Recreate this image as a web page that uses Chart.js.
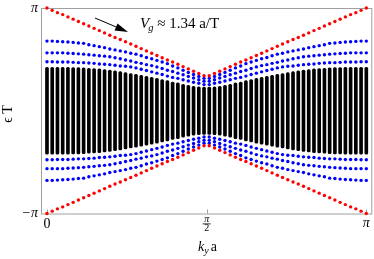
<!DOCTYPE html>
<html>
<head>
<meta charset="utf-8">
<script src="https://cdn.jsdelivr.net/npm/chart.js@4.4.1/dist/chart.umd.min.js"></script>
<style>
  html, body { margin: 0; padding: 0; background: #fff; }
</style>
</head>
<body>
<canvas id="bandas" width="374" height="259"></canvas>
<script>
  // k_y a sampled on 62 points from 0 to pi
  const kValues = Array.from({ length: 62 }, (_, i) => i * Math.PI / 61);

  // red edge states
  const redUpper = [3.14, 3.07, 3.00, 2.94, 2.87, 2.80, 2.73, 2.66, 2.59, 2.52, 2.45, 2.38, 2.31, 2.24, 2.18, 2.11, 2.04, 1.97, 1.90, 1.83, 1.76, 1.69, 1.62, 1.55, 1.49, 1.42, 1.35, 1.28, 1.21, 1.14, 1.07,
    1.07, 1.14, 1.21, 1.28, 1.35, 1.42, 1.49, 1.55, 1.62, 1.69, 1.76, 1.83, 1.90, 1.97, 2.04, 2.11, 2.18, 2.24, 2.31, 2.38, 2.45, 2.52, 2.59, 2.66, 2.73, 2.80, 2.87, 2.94, 3.00, 3.07, 3.14];
  const redLower = [-3.14, -3.07, -3.00, -2.94, -2.87, -2.80, -2.73, -2.66, -2.59, -2.52, -2.45, -2.38, -2.31, -2.24, -2.18, -2.11, -2.04, -1.97, -1.90, -1.83, -1.76, -1.69, -1.62, -1.55, -1.49, -1.42, -1.35, -1.28, -1.21, -1.14, -1.07,
    -1.07, -1.14, -1.21, -1.28, -1.35, -1.42, -1.49, -1.55, -1.62, -1.69, -1.76, -1.83, -1.90, -1.97, -2.04, -2.11, -2.18, -2.24, -2.31, -2.38, -2.45, -2.52, -2.59, -2.66, -2.73, -2.80, -2.87, -2.94, -3.00, -3.07, -3.14];

  // blue bands
  const blue1Upper = [2.13, 2.13, 2.12, 2.11, 2.10, 2.09, 2.07, 2.06, 2.02, 1.99, 1.96, 1.93, 1.89, 1.86, 1.83, 1.80, 1.76, 1.73, 1.68, 1.63, 1.59, 1.54, 1.49, 1.44, 1.37, 1.31, 1.24, 1.17, 1.11, 1.05, 0.99,
    0.99, 1.05, 1.11, 1.17, 1.24, 1.31, 1.37, 1.44, 1.49, 1.54, 1.59, 1.63, 1.68, 1.73, 1.76, 1.80, 1.83, 1.86, 1.89, 1.93, 1.96, 1.99, 2.02, 2.06, 2.07, 2.09, 2.10, 2.11, 2.12, 2.13, 2.13];
  const blue2Upper = [1.77, 1.77, 1.77, 1.77, 1.76, 1.75, 1.74, 1.73, 1.71, 1.70, 1.68, 1.67, 1.65, 1.62, 1.59, 1.55, 1.52, 1.48, 1.45, 1.41, 1.38, 1.34, 1.29, 1.24, 1.20, 1.15, 1.10, 1.05, 1.00, 0.95, 0.90,
    0.90, 0.95, 1.00, 1.05, 1.10, 1.15, 1.20, 1.24, 1.29, 1.34, 1.38, 1.41, 1.45, 1.48, 1.52, 1.55, 1.59, 1.62, 1.65, 1.67, 1.68, 1.70, 1.71, 1.73, 1.74, 1.75, 1.76, 1.77, 1.77, 1.77, 1.77];
  const blue3Upper = [1.50, 1.50, 1.49, 1.49, 1.49, 1.48, 1.47, 1.47, 1.46, 1.45, 1.43, 1.42, 1.41, 1.39, 1.37, 1.36, 1.34, 1.31, 1.27, 1.23, 1.19, 1.15, 1.11, 1.06, 1.02, 0.99, 0.95, 0.91, 0.87, 0.84, 0.80,
    0.80, 0.84, 0.87, 0.91, 0.95, 0.99, 1.02, 1.06, 1.11, 1.15, 1.19, 1.23, 1.27, 1.31, 1.34, 1.36, 1.37, 1.39, 1.41, 1.42, 1.43, 1.45, 1.46, 1.47, 1.47, 1.48, 1.49, 1.49, 1.49, 1.50, 1.50];
  const blue1Lower = [-2.13, -2.13, -2.12, -2.11, -2.10, -2.09, -2.07, -2.06, -2.02, -1.99, -1.96, -1.93, -1.89, -1.86, -1.83, -1.80, -1.76, -1.73, -1.68, -1.63, -1.59, -1.54, -1.49, -1.44, -1.37, -1.31, -1.24, -1.17, -1.11, -1.05, -0.99,
    -0.99, -1.05, -1.11, -1.17, -1.24, -1.31, -1.37, -1.44, -1.49, -1.54, -1.59, -1.63, -1.68, -1.73, -1.76, -1.80, -1.83, -1.86, -1.89, -1.93, -1.96, -1.99, -2.02, -2.06, -2.07, -2.09, -2.10, -2.11, -2.12, -2.13, -2.13];
  const blue2Lower = [-1.77, -1.77, -1.77, -1.77, -1.76, -1.75, -1.74, -1.73, -1.71, -1.70, -1.68, -1.67, -1.65, -1.62, -1.59, -1.55, -1.52, -1.48, -1.45, -1.41, -1.38, -1.34, -1.29, -1.24, -1.20, -1.15, -1.10, -1.05, -1.00, -0.95, -0.90,
    -0.90, -0.95, -1.00, -1.05, -1.10, -1.15, -1.20, -1.24, -1.29, -1.34, -1.38, -1.41, -1.45, -1.48, -1.52, -1.55, -1.59, -1.62, -1.65, -1.67, -1.68, -1.70, -1.71, -1.73, -1.74, -1.75, -1.76, -1.77, -1.77, -1.77, -1.77];
  const blue3Lower = [-1.50, -1.50, -1.49, -1.49, -1.49, -1.48, -1.47, -1.47, -1.46, -1.45, -1.43, -1.42, -1.41, -1.39, -1.37, -1.36, -1.34, -1.31, -1.27, -1.23, -1.19, -1.15, -1.11, -1.06, -1.02, -0.99, -0.95, -0.91, -0.87, -0.84, -0.80,
    -0.80, -0.84, -0.87, -0.91, -0.95, -0.99, -1.02, -1.06, -1.11, -1.15, -1.19, -1.23, -1.27, -1.31, -1.34, -1.36, -1.37, -1.39, -1.41, -1.42, -1.43, -1.45, -1.46, -1.47, -1.47, -1.48, -1.49, -1.49, -1.49, -1.50, -1.50];

  // edges of the dense black bulk bands
  const blackTop = [1.33, 1.33, 1.33, 1.33, 1.33, 1.32, 1.32, 1.31, 1.30, 1.29, 1.28, 1.26, 1.24, 1.22, 1.20, 1.17, 1.14, 1.11, 1.08, 1.05, 1.02, 0.99, 0.95, 0.92, 0.88, 0.85, 0.81, 0.78, 0.75, 0.73, 0.72,
    0.72, 0.73, 0.75, 0.78, 0.81, 0.85, 0.88, 0.92, 0.95, 0.99, 1.02, 1.05, 1.08, 1.11, 1.14, 1.17, 1.20, 1.22, 1.24, 1.26, 1.28, 1.29, 1.30, 1.31, 1.32, 1.32, 1.33, 1.33, 1.33, 1.33, 1.33];
  const blackBottom = [-1.33, -1.33, -1.33, -1.33, -1.33, -1.32, -1.32, -1.31, -1.30, -1.29, -1.28, -1.26, -1.24, -1.22, -1.20, -1.17, -1.14, -1.11, -1.08, -1.05, -1.02, -0.99, -0.95, -0.92, -0.88, -0.85, -0.81, -0.78, -0.75, -0.73, -0.72,
    -0.72, -0.73, -0.75, -0.78, -0.81, -0.85, -0.88, -0.92, -0.95, -0.99, -1.02, -1.05, -1.08, -1.11, -1.14, -1.17, -1.20, -1.22, -1.24, -1.26, -1.28, -1.29, -1.30, -1.31, -1.32, -1.32, -1.33, -1.33, -1.33, -1.33, -1.33];

  const xTickValues = [0, Math.PI / 2, Math.PI];
  const yTickValues = [Math.PI, -Math.PI];
  const yTickLabels = ['π', '−π'];

  const pts = arr => arr.map((v, i) => ({ x: kValues[i], y: v }));
  const serif = '"Liberation Serif", "DejaVu Serif", serif';

  const dots = (data, color, order) => ({
    type: 'scatter',
    data: pts(data),
    backgroundColor: color,
    borderWidth: 0,
    pointRadius: 1.7,
    pointHoverRadius: 1.7,
    order: order,
    clip: false
  });

  const decorations = {
    id: 'decorations',
    beforeDatasetsDraw(chart) {
      const { ctx, chartArea: a } = chart;
      ctx.save();
      ctx.strokeStyle = '#a0a0a0';
      ctx.lineWidth = 1;
      ctx.strokeRect(a.left + 0.5, a.top + 0.5, a.right - a.left - 1, a.bottom - a.top);
      // inward ticks on the bottom frame
      const xs = chart.scales.x;
      xTickValues.forEach(v => {
        const px = Math.round(xs.getPixelForValue(v)) + 0.5;
        ctx.beginPath();
        ctx.moveTo(px, a.bottom);
        ctx.lineTo(px, a.bottom - 4);
        ctx.stroke();
      });
      ctx.restore();
    },
    afterDraw(chart) {
      const { ctx, chartArea: a } = chart;
      const xs = chart.scales.x, ys = chart.scales.y;
      ctx.save();
      ctx.fillStyle = '#000';

      // y tick labels
      ctx.textAlign = 'right';
      ctx.textBaseline = 'middle';
      ctx.font = 'italic 14px ' + serif;
      yTickValues.forEach((v, i) => ctx.fillText(yTickLabels[i], a.left - 3, ys.getPixelForValue(v)));

      // x tick labels
      ctx.textAlign = 'center';
      ctx.textBaseline = 'alphabetic';
      ctx.font = '14px ' + serif;
      ctx.fillText('0', xs.getPixelForValue(0), 228);
      ctx.font = 'italic 14px ' + serif;
      ctx.fillText('π', xs.getPixelForValue(Math.PI), 227);
      const half = xs.getPixelForValue(Math.PI / 2);
      ctx.font = 'italic 10px ' + serif;
      ctx.fillText('π', half, 222);
      ctx.font = '10px ' + serif;
      ctx.fillText('2', half, 231);
      ctx.fillRect(half - 4, 223.5, 8, 0.8);

      // x axis title: k_y a
      ctx.textAlign = 'left';
      ctx.font = 'italic 14px ' + serif;
      let x0 = 198;
      ctx.fillText('k', x0, 251);
      x0 += ctx.measureText('k').width;
      ctx.font = 'italic 10px ' + serif;
      ctx.fillText('y', x0, 254);
      x0 += ctx.measureText('y').width + 2;
      ctx.font = '14px ' + serif;
      ctx.fillText('a', x0, 251);

      // y axis title: epsilon T
      ctx.save();
      ctx.translate(12, 114);
      ctx.rotate(-Math.PI / 2);
      ctx.textAlign = 'center';
      ctx.font = '14px ' + serif;
      ctx.fillText('ϵ T', 0, 0);
      ctx.restore();

      // annotation: V_g ≈ 1.34 a/T with arrow
      ctx.textAlign = 'left';
      let tx = 140;
      ctx.font = 'italic 15px ' + serif;
      ctx.fillText('V', tx, 28);
      tx += ctx.measureText('V').width - 1;
      ctx.font = 'italic 10.5px ' + serif;
      ctx.fillText('g', tx, 31);
      tx += ctx.measureText('g').width;
      ctx.font = '15px ' + serif;
      ctx.fillText(' ≈ 1.34 a/T', tx, 28);

      const ax0 = 95, ay0 = 18, ax1 = 128, ay1 = 32;
      const ang = Math.atan2(ay1 - ay0, ax1 - ax0);
      const hl = 13, hw = 3.8;
      const bx = ax1 - hl * Math.cos(ang), by = ay1 - hl * Math.sin(ang);
      ctx.strokeStyle = '#000';
      ctx.lineWidth = 1;
      ctx.beginPath();
      ctx.moveTo(ax0, ay0);
      ctx.lineTo(bx, by);
      ctx.stroke();
      ctx.beginPath();
      ctx.moveTo(ax1, ay1);
      ctx.lineTo(bx + hw * Math.sin(ang), by - hw * Math.cos(ang));
      ctx.lineTo(bx - hw * Math.sin(ang), by + hw * Math.cos(ang));
      ctx.closePath();
      ctx.fill();
      ctx.restore();
    }
  };

  const ctx = document.getElementById('bandas').getContext('2d');

  const grafico = new Chart(ctx, {
    type: 'scatter',
    data: {
      datasets: [
        dots(redUpper, '#ff0000', 0),
        dots(redLower, '#ff0000', 0),
        dots(blue1Upper, '#0000ff', 1),
        dots(blue2Upper, '#0000ff', 1),
        dots(blue3Upper, '#0000ff', 1),
        dots(blue1Lower, '#0000ff', 1),
        dots(blue2Lower, '#0000ff', 1),
        dots(blue3Lower, '#0000ff', 1),
        {
          type: 'bar',
          data: kValues.map((k, i) => ({ x: k, y: [blackBottom[i], blackTop[i]] })),
          backgroundColor: '#000000',
          barThickness: 3,
          borderRadius: 1.5,
          borderSkipped: false,
          order: 2
        }
      ]
    },
    options: {
      responsive: false,
      animation: false,
      devicePixelRatio: 1,
      layout: { padding: { left: 0, right: 1, top: 8, bottom: 0 } },
      plugins: {
        legend: { display: false },
        tooltip: { enabled: false }
      },
      scales: {
        x: {
          type: 'linear',
          offset: false,
          min: -0.0589,
          max: Math.PI + 0.0589,
          grid: { display: false, offset: false },
          border: { display: false },
          ticks: { display: false },
          afterFit(s) { s.height = 45.5; }
        },
        y: {
          type: 'linear',
          min: -Math.PI,
          max: Math.PI,
          grid: { display: false },
          border: { display: false },
          ticks: { display: false },
          afterFit(s) { s.width = 41; }
        }
      }
    },
    plugins: [decorations]
  });
</script>
</body>
</html>
